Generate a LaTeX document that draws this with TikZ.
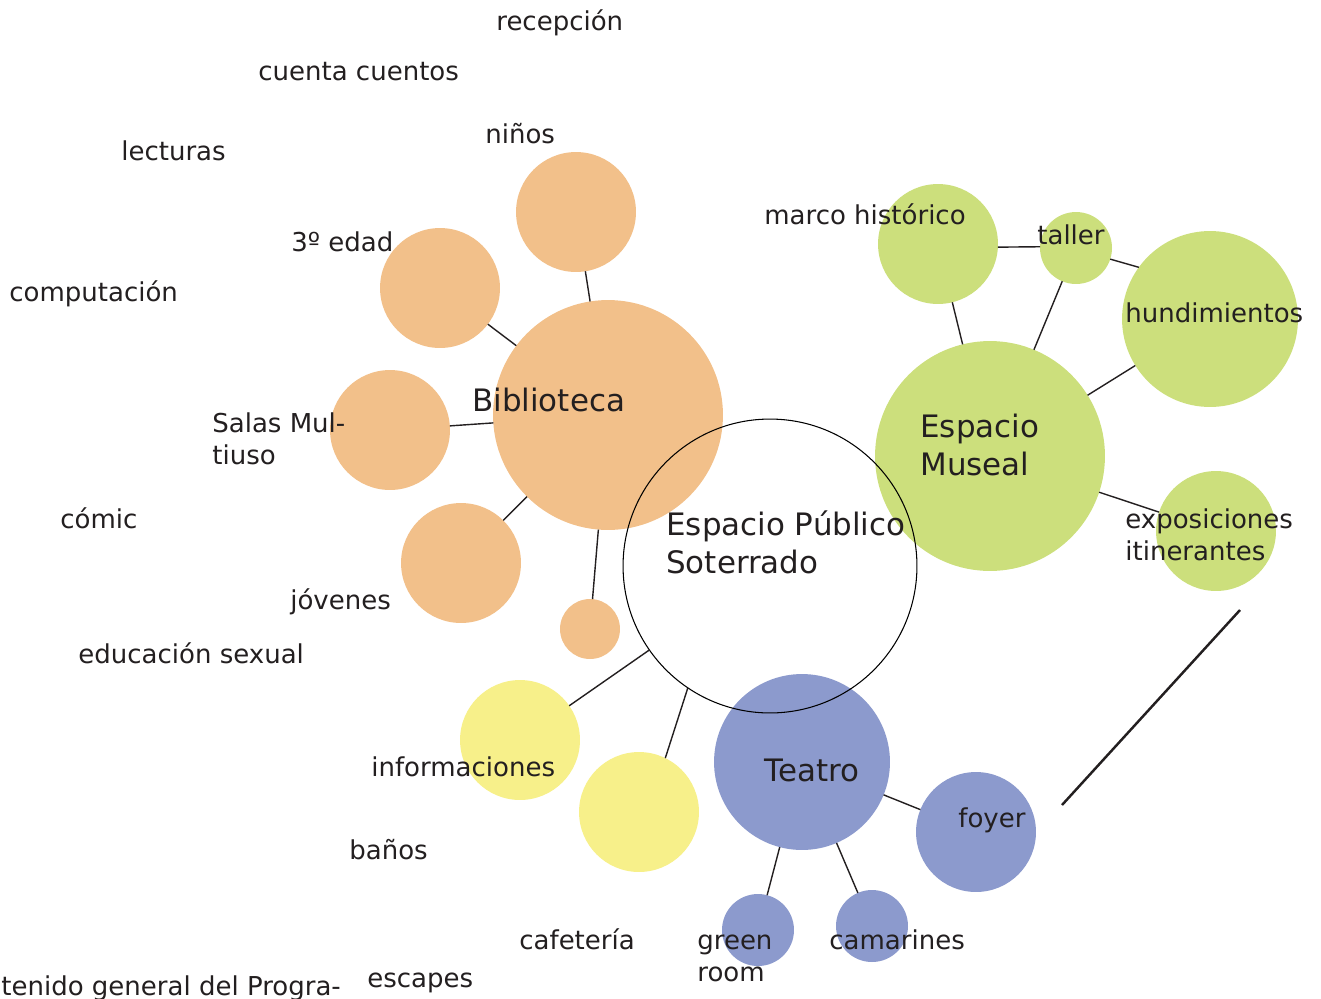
\documentclass[tikz,border=0pt]{standalone}
\usepackage{fontspec}
\setmainfont{DejaVu Sans}
\begin{document}
\begin{tikzpicture}[x=0.02cm,y=-0.02cm,
  bub/.style={circle,inner sep=0pt,outer sep=0pt,minimum size=#1*0.04cm},
  orange/.style={fill=orangec,draw=none},
  green/.style={fill=greenc,draw=none},
  blue/.style={fill=bluec,draw=none},
  yellow/.style={fill=yellowc,draw=none},
  conn/.style={draw=linec,line width=0.8pt},
  lbl/.style={anchor=base west,inner sep=0pt,text=textc,font=\fontsize{14.8}{18.1}\selectfont,align=left},
  big/.style={anchor=base west,inner sep=0pt,text=textc,font=\fontsize{17.6}{21.5}\selectfont,align=left}]
\definecolor{orangec}{RGB}{242,192,138}
\definecolor{greenc}{RGB}{204,223,124}
\definecolor{bluec}{RGB}{140,154,205}
\definecolor{yellowc}{RGB}{247,240,138}
\definecolor{linec}{RGB}{35,31,32}
\definecolor{textc}{RGB}{35,31,32}
\useasboundingbox (0,0) rectangle (1321,998);
% orange bubbles
\node[bub=115,orange] (bib) at (608,415) {};
\node[bub=60,orange] (ninos) at (576,212) {};
\node[bub=60,orange] (edad) at (440,288) {};
\node[bub=60,orange] (salas) at (390,430) {};
\node[bub=60,orange] (jov) at (461,563) {};
\node[bub=30,orange] (small) at (590,629) {};
% green bubbles
\node[bub=115,green] (mus) at (990,456) {};
\node[bub=60,green] (marco) at (938,244) {};
\node[bub=36,green] (taller) at (1076,248) {};
\node[bub=88,green] (hund) at (1210,319) {};
\node[bub=60,green] (expo) at (1216,531) {};
% yellow bubbles
\node[bub=60,yellow] (info) at (520,740) {};
\node[bub=60,yellow] (yel2) at (639,812) {};
% blue bubbles
\node[bub=88,blue] (teatro) at (802,762) {};
\node[bub=60,blue] (foyer) at (976,832) {};
\node[bub=36,blue] (green) at (758,930) {};
\node[bub=36,blue] (cam) at (872,926) {};
% central
\node[bub=147,draw=black,line width=0.6pt] (sot) at (770,566) {};
% connectors
\draw[conn] (ninos) -- (bib);
\draw[conn] (edad) -- (bib);
\draw[conn] (salas) -- (bib);
\draw[conn] (jov) -- (bib);
\draw[conn] (small) -- (bib);
\draw[conn] (marco) -- (mus);
\draw[conn] (marco.-3) -- (taller.178);
\draw[conn] (taller.-18) -- (hund.144);
\draw[conn] (taller) -- (mus);
\draw[conn] (hund) -- (mus);
\draw[conn] (mus) -- (expo);
\draw[conn] (sot) -- (info);
\draw[conn] (sot.236) -- (yel2.64);
\draw[conn] (teatro) -- (foyer);
\draw[conn] (teatro) -- (green);
\draw[conn] (teatro) -- (cam);
\coordinate (d1) at (1240,610);
\coordinate (d2) at (1062,805);
\draw[draw=linec,line width=1.4pt] (d1) -- (d2);
% labels
\node[lbl] (t1) at (496,30) {recepción};
\node[lbl] (t2) at (258,80) {cuenta cuentos};
\node[lbl] (t3) at (485,143) {niños};
\node[lbl] (t4) at (121,160) {lecturas};
\node[lbl] (t5) at (764,224) {marco histórico};
\node[lbl] (t6) at (1037,244) {taller};
\node[lbl] (t7) at (291,251) {3º edad};
\node[lbl] (t8) at (9,301) {computación};
\node[lbl] (t9) at (1125,322) {hundimientos};
\node[big] (t10) at (472,411) {Biblioteca};
\node[lbl] (t11) at (212,464) {Salas Mul-\\tiuso};
\node[big] (t12) at (920,475) {Espacio\\Museal};
\node[lbl] (t13) at (60,528) {cómic};
\node[lbl] (t14) at (1125,560) {exposiciones\\itinerantes};
\node[big] (t15) at (666,573) {Espacio Público\\Soterrado};
\node[lbl] (t16) at (290,609) {jóvenes};
\node[lbl] (t17) at (78,663) {educación sexual};
\node[lbl] (t18) at (371,776) {informaciones};
\node[big] (t19) at (764,781) {Teatro};
\node[lbl] (t20) at (958,827) {foyer};
\node[lbl] (t21) at (349,859) {baños};
\node[lbl] (t22) at (519,949) {cafetería};
\node[lbl] (t23) at (697,981) {green\\room};
\node[lbl] (t24) at (829,949) {camarines};
\node[lbl] (t25) at (367,987) {escapes};
\node[lbl] (t26) at (1,995) {tenido general del Progra-};
\end{tikzpicture}
\end{document}
